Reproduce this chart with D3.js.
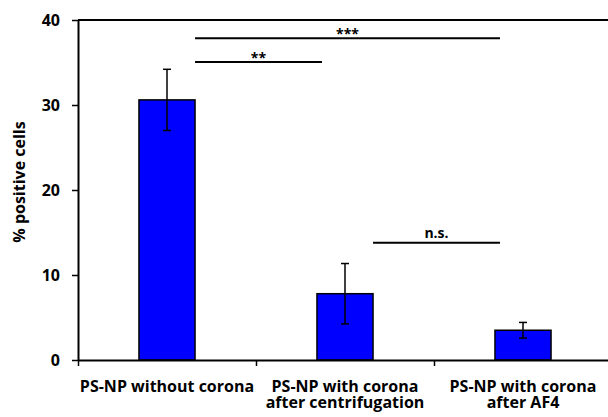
<!DOCTYPE html>
<html>
<head>
<meta charset="utf-8">
<script src="https://cdn.jsdelivr.net/npm/d3@7"></script>
<style>
  html, body { margin: 0; padding: 0; background: #fff; }
  svg { display: block; }
  text { font-family: "Open Sans", "DejaVu Sans", sans-serif; font-weight: bold; fill: #000; }
</style>
</head>
<body>
<svg id="chart" width="608" height="417"></svg>
<script>
// Uptake of polystyrene nanoparticles: share of positive cells per condition
const categories = ["PS-NP without corona", "PS-NP with corona after centrifugation", "PS-NP with corona after AF4"];
const categoryLines = [["PS-NP without corona"], ["PS-NP with corona", "after centrifugation"], ["PS-NP with corona", "after AF4"]];
const values = [30.6, 7.8, 3.5];
const errors = [3.6, 3.55, 0.92];
const yTicks = [0, 10, 20, 30, 40];
const yLabel = "% positive cells";

// Pairwise comparisons: from/to are category indices, level is the bracket height in % units
const compFrom = [0, 0, 1];
const compTo = [2, 1, 2];
const compLevel = [37.85, 35.05, 13.8];
const compLabel = ["***", "**", "n.s."];

const svg = d3.select("#chart");
const plotLeft = 78, plotRight = 612, plotTop = 20, plotBottom = 360;

const y = d3.scaleLinear().domain([0, 40]).range([plotBottom, plotTop]);
const x = d3.scaleBand().domain(categories).range([plotLeft, plotRight])
  .paddingInner(0.685).paddingOuter(0.3425);
const edge = d3.scaleLinear().domain([0, categories.length]).range([plotLeft, plotRight]);

// top frame line
svg.append("line")
  .attr("x1", plotLeft).attr("x2", plotRight)
  .attr("y1", y(40)).attr("y2", y(40))
  .attr("stroke", "#000").attr("stroke-width", 2);

// bars
svg.append("g").selectAll("rect")
  .data(values)
  .join("rect")
  .attr("x", (d, i) => x(categories[i]))
  .attr("y", d => y(d))
  .attr("width", x.bandwidth())
  .attr("height", d => y(0) - y(d))
  .attr("fill", "#0000ff")
  .attr("stroke", "#000")
  .attr("stroke-width", 1.5);

// error bars
const eb = svg.append("g").attr("stroke", "#000").attr("stroke-width", 1.5);
values.forEach((v, i) => {
  const cx = x(categories[i]) + x.bandwidth() / 2;
  const hi = y(v + errors[i]), lo = y(v - errors[i]);
  eb.append("line").attr("x1", cx).attr("x2", cx).attr("y1", hi).attr("y2", lo);
  eb.append("line").attr("x1", cx - 4).attr("x2", cx + 4).attr("y1", hi).attr("y2", hi);
  eb.append("line").attr("x1", cx - 4).attr("x2", cx + 4).attr("y1", lo).attr("y2", lo);
});

// y axis
const yAxis = svg.append("g")
  .attr("transform", `translate(${plotLeft},0)`)
  .call(d3.axisLeft(y).tickValues(yTicks).tickSize(6).tickSizeOuter(0).tickPadding(12));
yAxis.select(".domain").attr("stroke-width", 2);
yAxis.selectAll(".tick line").attr("stroke-width", 1.5);
yAxis.selectAll(".tick text")
  .attr("font-size", 16).attr("font-family", "'Open Sans', sans-serif").attr("font-weight", "bold");

// x axis: ticks at category boundaries
const xAxis = svg.append("g")
  .attr("transform", `translate(0,${plotBottom})`)
  .call(d3.axisBottom(edge).tickValues(d3.range(categories.length + 1)).tickSize(6).tickSizeOuter(0).tickFormat(""));
xAxis.select(".domain").attr("stroke-width", 2);
xAxis.selectAll(".tick line").attr("stroke-width", 1.5);

// category labels
const lab = svg.append("g");
categoryLines.forEach((lines, i) => {
  const cx = x(categories[i]) + x.bandwidth() / 2;
  const t = lab.append("text")
    .attr("x", cx).attr("y", 392)
    .attr("text-anchor", "middle").attr("font-size", 16);
  lines.forEach((s, k) => {
    t.append("tspan").attr("x", cx).attr("dy", k === 0 ? 0 : 16).text(s);
  });
});

// y axis title
svg.append("text")
  .attr("transform", `translate(25,${(plotTop + plotBottom) / 2 - 8}) rotate(-90)`)
  .attr("text-anchor", "middle")
  .attr("font-size", 16)
  .text(yLabel);

// significance brackets
const sig = svg.append("g");
compLabel.forEach((lbl, i) => {
  const x1 = x(categories[compFrom[i]]) + x.bandwidth();
  const x2 = x(categories[compTo[i]]) + 5;
  const ly = y(compLevel[i]);
  sig.append("line")
    .attr("x1", x1).attr("x2", x2).attr("y1", ly).attr("y2", ly)
    .attr("stroke", "#000").attr("stroke-width", 2);
  sig.append("text")
    .attr("x", (x1 + x2) / 2).attr("y", lbl === "n.s." ? ly - 5 : ly + 1)
    .attr("text-anchor", "middle")
    .attr("font-size", 14)
    .text(lbl);
});
</script>
</body>
</html>
